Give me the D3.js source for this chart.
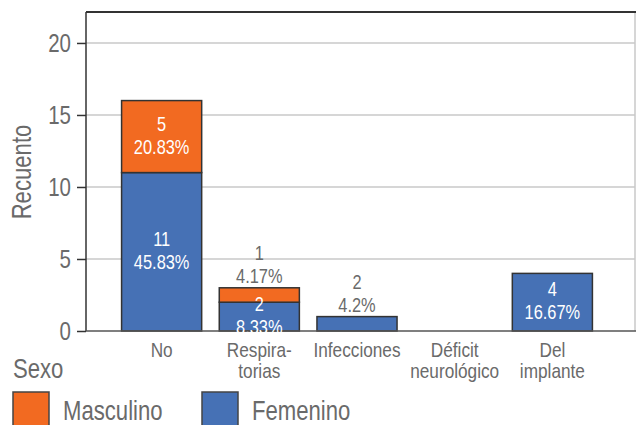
<!DOCTYPE html>
<html>
<head>
<meta charset="utf-8">
<script src="https://cdn.jsdelivr.net/npm/d3@7"></script>
<style>
  html, body { margin: 0; padding: 0; background: #fff; }
  svg { display: block; }
</style>
</head>
<body>
<svg id="chart" width="636" height="425"></svg>
<script>
// ---- data ----
const categories = ["No", "Respiratorias", "Infecciones", "Déficit neurológico", "Del implante"];
const categoryLines = [["No"], ["Respira-", "torias"], ["Infecciones"], ["Déficit", "neurológico"], ["Del", "implante"]];
const femenino = [11, 2, 1, 0, 4];
const masculino = [5, 1, 0, 0, 0];
const femeninoLabels = [["11", "45.83%"], ["2", "8.33%"], ["2", "4.2%"], null, ["4", "16.67%"]];
const masculinoLabels = [["5", "20.83%"], ["1", "4.17%"], null, null, null];
const yTicks = [0, 5, 10, 15, 20];
const seriesNames = ["Masculino", "Femenino"];
const seriesColors = ["#f26a21", "#4671b5"];

// ---- font detection ----
const ctx = document.createElement("canvas").getContext("2d");
ctx.font = '40px "Liberation Sans Narrow", "Liberation Sans"';
const wNarrow = ctx.measureText("Recuento Masculino").width;
ctx.font = '40px "Liberation Sans"';
const wReg = ctx.measureText("Recuento Masculino").width;
const hasNarrow = wNarrow < wReg * 0.92;
const FONT = hasNarrow ? '"Liberation Sans Narrow", "Liberation Sans", Arial, sans-serif' : '"Liberation Sans", Arial, sans-serif';
const SX = hasNarrow ? 1 : 0.82;
const GREY = "#6a6a6a";

const svg = d3.select("#chart");
const L = 86, T = 12, R = 635, B = 331;

const x = d3.scaleBand().domain(categories).range([104, 610]).padding(0.18);
const y = d3.scaleLinear().domain([0, 22.15]).range([B, T]);

function txt(g, lines, px, py, size, fill, anchor, rot, lh) {
  const arr = Array.isArray(lines) ? lines : [lines];
  const t = g.append("text")
    .attr("transform", `translate(${px},${py})` + (rot ? ` rotate(${rot})` : "") + ` scale(${SX},1)`)
    .attr("font-family", FONT)
    .attr("font-size", size)
    .attr("fill", fill)
    .attr("text-anchor", anchor || "middle");
  arr.forEach((s, j) => t.append("tspan").attr("x", 0).attr("y", j * (lh || 0)).text(s));
  return t;
}

// gridlines
svg.append("g").selectAll("line").data(yTicks.filter(d => d > 0)).join("line")
  .attr("x1", L).attr("x2", R).attr("y1", d => y(d)).attr("y2", d => y(d))
  .attr("stroke", "#c8c8c8").attr("stroke-width", 1.5);

// right border
svg.append("line").attr("x1", R).attr("x2", R).attr("y1", T).attr("y2", B)
  .attr("stroke", "#c8c8c8").attr("stroke-width", 1.5);

// y axis
const yAxis = d3.axisLeft(y).tickValues(yTicks).tickSize(9).tickPadding(6).tickFormat(d3.format("d"));
const gy = svg.append("g").attr("transform", `translate(${L},0)`).call(yAxis);
gy.select(".domain").remove();
gy.selectAll(".tick line").attr("stroke", "#333").attr("stroke-width", 1.5);
gy.selectAll(".tick text").remove();
yTicks.forEach(v => txt(svg, String(v), 71, y(v) + 9, 25, GREY, "end"));

// bars
const stackData = categories.map((c, i) => ({ c, i, f: femenino[i], m: masculino[i] }));
const gb = svg.append("g");
stackData.forEach(d => {
  if (d.f > 0) {
    gb.append("rect").attr("x", x(d.c)).attr("width", x.bandwidth())
      .attr("y", y(d.f)).attr("height", y(0) - y(d.f))
      .attr("fill", seriesColors[1]).attr("stroke", "#333").attr("stroke-width", 1.5);
  }
  if (d.m > 0) {
    gb.append("rect").attr("x", x(d.c)).attr("width", x.bandwidth())
      .attr("y", y(d.f + d.m)).attr("height", y(d.f) - y(d.f + d.m))
      .attr("fill", seriesColors[0]).attr("stroke", "#333").attr("stroke-width", 1.5);
  }
});

// frame lines (top, left, bottom)
svg.append("line").attr("x1", L).attr("x2", R + 1).attr("y1", T).attr("y2", T).attr("stroke", "#333").attr("stroke-width", 2);
svg.append("line").attr("x1", L).attr("x2", L).attr("y1", T).attr("y2", B).attr("stroke", "#333").attr("stroke-width", 1.5);
svg.append("line").attr("x1", L).attr("x2", 636).attr("y1", B).attr("y2", B).attr("stroke", "#555").attr("stroke-width", 1.5);

// value labels
const gl = svg.append("g");
function valueLabel(lines, cx, lo, hi, top) {
  const hpx = y(lo) - y(hi);
  const inside = hpx >= 20;
  const centre = inside ? (y(lo) + y(hi)) / 2 : y(top) - 22;
  const fill = inside ? "#fff" : GREY;
  txt(gl, lines, cx, centre - 12 + 6, 20, fill, "middle", 0, 23);
}
stackData.forEach(d => {
  const cx = x(d.c) + x.bandwidth() / 2;
  const tot = d.f + d.m;
  if (femeninoLabels[d.i]) valueLabel(femeninoLabels[d.i], cx, 0, d.f, tot);
  if (masculinoLabels[d.i]) valueLabel(masculinoLabels[d.i], cx, d.f, tot, tot);
});

// x category labels
const gx = svg.append("g");
categories.forEach((c, i) => {
  const cx = x(c) + x.bandwidth() / 2;
  txt(gx, categoryLines[i], cx, 357, 21, GREY, "middle", 0, 21);
});

// y title
txt(svg, "Recuento", 31, 172, 27, GREY, "middle", -90);

// legend
txt(svg, "Sexo", 13, 378, 27, GREY, "start");
const legX = [13, 202];
seriesNames.forEach((n, i) => {
  svg.append("rect").attr("x", legX[i]).attr("y", 392).attr("width", 36).attr("height", 36)
    .attr("fill", seriesColors[i]).attr("stroke", "#444").attr("stroke-width", 1.5);
  txt(svg, n, legX[i] + 50, 420, 27, GREY, "start");
});
</script>
</body>
</html>
